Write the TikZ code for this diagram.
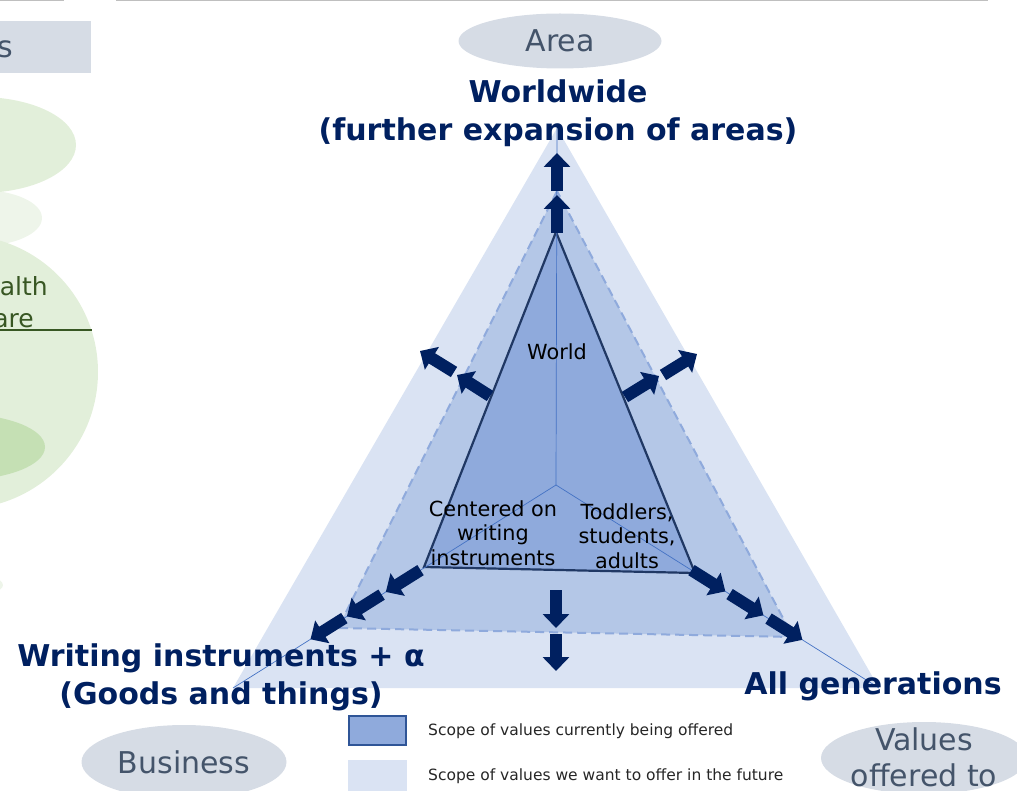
\documentclass[tikz,border=0pt]{standalone}
\usepackage{fontspec}
\setmainfont{DejaVu Sans}
\usetikzlibrary{shapes.geometric,arrows.meta,calc}

\definecolor{navy}{HTML}{002060}
\definecolor{tagfill}{HTML}{D6DCE5}
\definecolor{tagtext}{HTML}{44546A}
\definecolor{farzone}{HTML}{DAE3F3}
\definecolor{midzone}{HTML}{B4C7E7}
\definecolor{nowzone}{HTML}{8FAADC}
\definecolor{nowedge}{HTML}{203864}
\definecolor{axisline}{HTML}{4472C4}
\definecolor{legedge}{HTML}{2F5597}
\definecolor{leafA}{HTML}{E2EFDA}
\definecolor{leafB}{HTML}{EEF5EA}
\definecolor{leafC}{HTML}{C5E0B4}
\definecolor{leaftext}{HTML}{385723}

\begin{document}
\begin{tikzpicture}[x=1pt,y=-1pt,
    bubble/.style={ellipse,fill=tagfill,text=tagtext,inner sep=0pt,font=\fontsize{30}{36}\selectfont},
    bubtext/.style={text=tagtext,align=center,inner sep=0pt,font=\fontsize{30}{36}\selectfont},
    headline/.style={text=navy,align=center,inner sep=0pt,font=\bfseries\fontsize{30}{38}\selectfont},
    inlabel/.style={align=center,inner sep=0pt,font=\fontsize{20.8}{24.5}\selectfont},
    legbox/.style={minimum width=59pt,minimum height=31pt,inner sep=0pt},
    legtext/.style={anchor=west,inner sep=0pt,text=black!85,font=\fontsize{15.5}{18}\selectfont},
    bigarrow/.style={navy,line width=12pt,-{Triangle[length=14pt,width=26pt]}},
    axis/.style={axisline,line width=0.7pt}]
      \clip (0,0) rectangle (1017,791);
      \draw[black!25,line width=1.5pt] (0,0.7) -- (64,0.7) (116,0.7) -- (988,0.7);

      \fill[tagfill] (0,21) rectangle (91,73);
      \node[anchor=base east,inner sep=0pt,text=tagtext,font=\fontsize{30}{36}\selectfont] (s0) at (13,58) {s};

      \fill[leafB] (-20,218) ellipse [x radius=62,y radius=28];
      \fill[leafA] (-20,145) ellipse [x radius=96,y radius=48];
      \fill[leafA] (-39,372) circle [radius=137];
      \fill[leafC] (-40,447) ellipse [x radius=85,y radius=33];
      \fill[leafB] (-40,585) ellipse [x radius=43,y radius=13];
      \node[anchor=base east,inner sep=0pt,text=leaftext,font=\fontsize{25}{30}\selectfont] (hl) at (48,296) {alth};
      \node[anchor=base east,inner sep=0pt,text=leaftext,font=\fontsize{25}{30}\selectfont] (hc) at (34,328) {are};
      \draw[leaftext,line width=1.5pt] (0,330) -- (92,330);

      \coordinate (ot)  at (557,128);
      \coordinate (obl) at (233,688);
      \coordinate (obr) at (879,688);
      \coordinate (mt)  at (557,191);
      \coordinate (mbl) at (338,628);
      \coordinate (mbr) at (793,637);
      \coordinate (it)  at (556,232);
      \coordinate (ibl) at (424,567);
      \coordinate (ibr) at (695,573);
      \coordinate (c)   at (556,485);

      \fill[farzone] (ot) -- (obl) -- (obr) -- cycle;
      \filldraw[fill=midzone,draw=nowzone,line width=2pt,dash pattern=on 9pt off 5pt] (mt) -- (mbl) -- (mbr) -- cycle;
      \filldraw[fill=nowzone,draw=nowedge,line width=2.2pt] (it) -- (ibl) -- (ibr) -- cycle;
      \draw[axis] (c) -- (ot);
      \draw[axis] (c) -- (obl);
      \draw[axis] (c) -- (obr);

      \draw[bigarrow] (557,233) -- (557,195);
      \draw[bigarrow] (557,191) -- (557,153);
      \draw[bigarrow] (556,590) -- (556,628);
      \draw[bigarrow] (556,634) -- (556,671);
      \draw[bigarrow] (490,396) -- (457,375);
      \draw[bigarrow] (454,372) -- (420,351);
      \draw[bigarrow] (625,397) -- (659,376);
      \draw[bigarrow] (663,375) -- (697,354);
      \draw[bigarrow] ($(c)!160pt!(obl)$) -- ($(c)!201pt!(obl)$);
      \draw[bigarrow] ($(c)!206pt!(obl)$) -- ($(c)!247pt!(obl)$);
      \draw[bigarrow] ($(c)!250pt!(obl)$) -- ($(c)!290pt!(obl)$);
      \draw[bigarrow] ($(c)!160pt!(obr)$) -- ($(c)!200pt!(obr)$);
      \draw[bigarrow] ($(c)!205pt!(obr)$) -- ($(c)!245pt!(obr)$);
      \draw[bigarrow] ($(c)!251pt!(obr)$) -- ($(c)!291pt!(obr)$);

      \node[bubble,minimum width=203pt,minimum height=55pt] (area) at (560,41) {Area};
      \node[headline] (ww) at (558,113) {Worldwide\\(further expansion of areas)};
      \node[inlabel] (wo) at (557,352) {World};
      \node[inlabel] (cw) at (493,533) {Centered on\\writing\\instruments};
      \node[inlabel] (tsa) at (627,536) {Toddlers,\\students,\\adults};
      \node[headline] (wi) at (221,677) {Writing instruments + α\\(Goods and things)};
      \node[headline,anchor=base] (ag) at (873,694) {All generations};

      \node[legbox,fill=nowzone,draw=legedge,line width=2pt,minimum width=57pt,minimum height=29pt] (lg1) at (377.5,730.5) {};
      \node[legbox,fill=farzone] (lg2) at (377.5,775.5) {};
      \node[legtext] (lt1) at (428,731) {Scope of values currently being offered};
      \node[legtext] (lt2) at (428,776) {Scope of values we want to offer in the future};

      \node[bubble,minimum width=205pt,minimum height=74pt] (biz) at (184,762) {Business};
      \node[bubble,minimum width=206pt,minimum height=72pt] (valb) at (924,758) {};
      \node[bubtext] (val) at (924,757) {Values\\offered to};
    \end{tikzpicture}
\end{document}
